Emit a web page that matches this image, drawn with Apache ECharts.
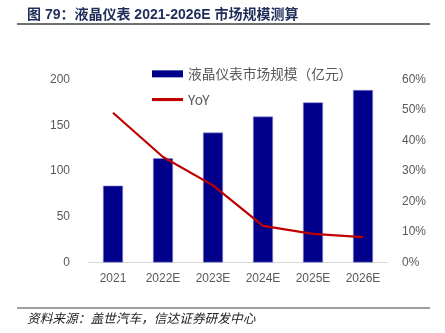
<!DOCTYPE html>
<html><head><meta charset="utf-8">
<script src="https://cdn.jsdelivr.net/npm/echarts@6/dist/echarts.min.js"></script>
<style>html,body{margin:0;padding:0;background:#fff}#c{width:445px;height:333px}</style>
</head><body><div id="c"></div>
<script>
const categories = ['2021','2022E','2023E','2024E','2025E','2026E'];
const marketSize = [84, 114, 142, 159.5, 175, 188.5];
const yoy = [49.1, 34.6, 25.3, 12.0, 9.4, 8.3];
const leftTicks = [0, 50, 100, 150, 200];
const rightTicks = [0, 10, 20, 30, 40, 50, 60];

const chart = echarts.init(document.getElementById('c'), null, {renderer:'canvas'});
const font = '"Liberation Sans", Arial, "Noto Sans CJK SC", sans-serif';
chart.setOption({
  animation: false,
  textStyle: {fontFamily: font},
  graphic: [
    {type:'text', left:27, top:8, style:{text:'图 79：液晶仪表 2021-2026E 市场规模测算', fill:'#1f2d5a', font:'bold 14px "Liberation Sans", "Noto Sans CJK SC", sans-serif'}},
    {type:'line', shape:{x1:17, y1:24, x2:430, y2:24}, style:{stroke:'#404040', lineWidth:1.5}},
    {type:'line', shape:{x1:17, y1:308, x2:430, y2:308}, style:{stroke:'#404040', lineWidth:1.2}},
    {type:'text', left:27, top:312, style:{text:'资料来源：盖世汽车，信达证券研发中心', fill:'#222', font:'italic 12.7px "Noto Sans CJK SC", sans-serif'}}
  ],
  legend: {
    orient:'vertical', left:147, top:62, itemGap:12, itemWidth:31, itemHeight:7,
    textStyle:{color:'#595959', fontSize:13.7, fontFamily:'"Noto Sans CJK SC", sans-serif'},
    data:[{name:'液晶仪表市场规模（亿元）', icon:'rect', itemStyle:{borderWidth:0}}, {name:'YoY', icon:'path://M0,0H10V1H0Z', itemStyle:{color:'#C00000'}}]
  },
  grid: {left:88, right:57, top:79.5, bottom:70.5},
  xAxis: {
    type:'category', data:categories,
    axisLine:{lineStyle:{color:'#d9d9d9', width:1}},
    axisTick:{show:false},
    axisLabel:{color:'#595959', fontSize:12, margin:10}
  },
  yAxis: [
    {type:'value', min:leftTicks[0], max:leftTicks[leftTicks.length-1], interval:50,
     splitLine:{show:false}, axisLine:{show:false}, axisTick:{show:false},
     axisLabel:{color:'#595959', fontSize:12, margin:18}},
    {type:'value', min:rightTicks[0], max:rightTicks[rightTicks.length-1], interval:10,
     splitLine:{show:false}, axisLine:{show:false}, axisTick:{show:false},
     axisLabel:{color:'#595959', fontSize:12, margin:14, formatter:'{value}%'}}
  ],
  series: [
    {name:'液晶仪表市场规模（亿元）', type:'bar', data:marketSize, barWidth:20,
     itemStyle:{color:'#00008B', borderColor:'#8c8cd0', borderWidth:0.6}},
    {name:'YoY', type:'line', yAxisIndex:1, data:yoy, symbol:'none',
     lineStyle:{color:'#C00000', width:2.2}, itemStyle:{color:'#C00000'}}
  ]
});
</script></body></html>
